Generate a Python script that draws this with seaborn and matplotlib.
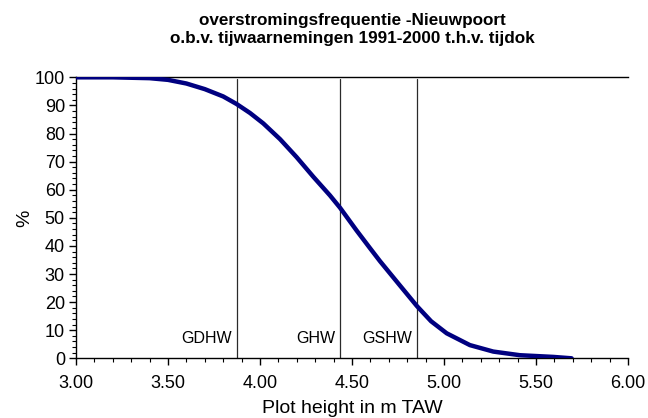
import matplotlib
matplotlib.use("Agg")
import matplotlib.pyplot as plt
import seaborn as sns
import pandas as pd
from matplotlib.ticker import MultipleLocator, FormatStrFormatter

height_m = [3.00, 3.20, 3.40, 3.50, 3.60, 3.70, 3.80, 3.873, 3.946, 4.018,
            4.109, 4.199, 4.290, 4.380, 4.435, 4.525, 4.598, 4.652, 4.761, 4.853,
            4.93, 5.015, 5.141, 5.268, 5.413, 5.594, 5.694]
percent = [100.0, 100.0, 99.7, 99.1, 97.8, 95.8, 93.2, 90.5, 87.3, 83.6,
           78.0, 71.6, 64.6, 58.0, 53.6, 45.5, 39.2, 34.6, 25.9, 18.6,
           13.2, 8.9, 4.7, 2.4, 1.1, 0.5, 0.0]

ref_names = ["GDHW", "GHW", "GSHW"]
ref_levels = [3.873, 4.433, 4.853]

title = "overstromingsfrequentie -Nieuwpoort\no.b.v. tijwaarnemingen 1991-2000 t.h.v. tijdok"
xlabel = "Plot height in m TAW"
ylabel = "%"

sns.set_theme(style="ticks")
plt.rcParams['font.family'] = ['Liberation Sans', 'DejaVu Sans']
plt.rcParams['text.color'] = 'black'
plt.rcParams['axes.labelcolor'] = 'black'
plt.rcParams['xtick.color'] = 'black'
plt.rcParams['ytick.color'] = 'black'

df = pd.DataFrame({"h": height_m, "p": percent})

fig = plt.figure(figsize=(6.48, 4.18), dpi=100)
ax = fig.add_axes([0.1173, 0.1428, 0.8517, 0.6722])

sns.lineplot(data=df, x="h", y="p", ax=ax, color="#000080", linewidth=3.2,
             solid_capstyle="round", zorder=3)

for name, lvl in zip(ref_names, ref_levels):
    ax.axvline(lvl, ymin=0, ymax=0.995, color="#2a2a2a", linewidth=0.9, zorder=2)
    ax.text(lvl - 0.025, 7, name, ha="right", va="center", fontsize=11.5, color="black")

ax.set_xlim(3.0, 6.0)
ax.set_ylim(0, 100)
ax.xaxis.set_major_locator(MultipleLocator(0.5))
ax.xaxis.set_minor_locator(MultipleLocator(0.1))
ax.xaxis.set_major_formatter(FormatStrFormatter("%.2f"))
ax.yaxis.set_major_locator(MultipleLocator(10))
ax.yaxis.set_minor_locator(MultipleLocator(2))

ax.tick_params(axis="both", which="major", labelsize=13, length=5, width=1,
               direction="out")
ax.tick_params(axis="x", which="major", pad=7)
ax.tick_params(axis="y", which="major", pad=3)
ax.tick_params(axis="both", which="minor", length=3, width=0.8, direction="out")

ax.spines["right"].set_visible(False)
for s in ["left", "bottom", "top"]:
    ax.spines[s].set_color("black")
    ax.spines[s].set_linewidth(1.0)

ax.set_xlabel(xlabel, fontsize=14, labelpad=6)
ax.set_ylabel(ylabel, fontsize=14, labelpad=1)
ax.set_title(title, fontsize=12.3, fontweight="bold", pad=25, linespacing=1.2)

fig.savefig("out.png", dpi=100, facecolor="white")
